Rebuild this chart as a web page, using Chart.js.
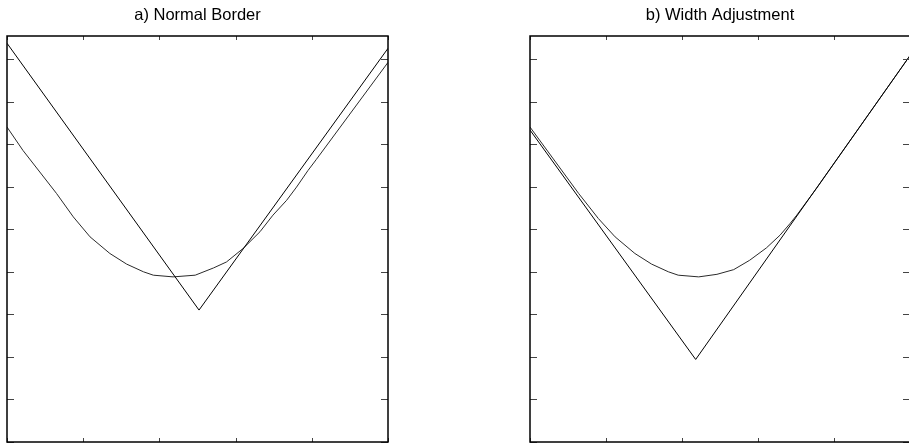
<!DOCTYPE html>
<html>
<head>
<meta charset="utf-8">
<script src="https://cdn.jsdelivr.net/npm/chart.js@4.4.1/dist/chart.umd.min.js"></script>
<style>
  html, body { margin: 0; padding: 0; background: #fff; overflow: hidden; }
  .panel { position: absolute; top: 0; height: 443px; }
  #boxA { left: 0; width: 395px; }
  #boxB { left: 523px; width: 394px; }
</style>
</head>
<body>
<div class="panel" id="boxA"><canvas id="chartA"></canvas></div>
<div class="panel" id="boxB"><canvas id="chartB"></canvas></div>
<script>
// tick positions (no labels in the original)
const xTicks = [0, 1, 2, 3, 4, 5];
const yTicks = [0, 1, 2, 3, 4, 5, 6, 7, 8, 9];

// a) Normal Border
const leftVX = [0, 2.52, 5];
const leftVY = [9.37, 3.10, 9.25];
const leftCurveX = [0, 0.21, 0.65, 0.87, 1.09, 1.35, 1.57, 1.79, 1.92, 2.18, 2.47, 2.71, 2.88, 3.10, 3.32, 3.49, 3.67, 3.80, 3.95, 4.06, 5];
const leftCurveY = [7.40, 6.85, 5.84, 5.29, 4.82, 4.43, 4.18, 4.00, 3.92, 3.88, 3.92, 4.09, 4.23, 4.55, 4.94, 5.33, 5.68, 5.99, 6.38, 6.64, 8.92];

// b) Width Adjustment
const rightVX = [0, 2.18, 5];
const rightVY = [7.33, 1.94, 9.08];
const rightCurveX = [0, 0.64, 0.90, 1.12, 1.38, 1.60, 1.82, 1.95, 2.22, 2.46, 2.68, 2.89, 3.11, 3.29, 3.42, 3.51, 3.77, 5];
const rightCurveY = [7.40, 5.84, 5.25, 4.82, 4.43, 4.18, 4.00, 3.92, 3.88, 3.94, 4.05, 4.27, 4.56, 4.86, 5.13, 5.33, 5.96, 9.08];

function pts(xs, ys) {
  return xs.map((x, i) => ({ x: x, y: ys[i] }));
}

// frame + inward tick marks on all four sides
const frameTicks = {
  id: 'frameTicks',
  afterDatasetsDraw(chart) {
    const { ctx, chartArea: a, scales: { x, y } } = chart;
    ctx.save();
    ctx.strokeStyle = '#444';
    ctx.lineWidth = 1;
    ctx.beginPath();
    xTicks.forEach(v => {
      const px = Math.round(x.getPixelForValue(v)) + 0.5;
      ctx.moveTo(px, a.top); ctx.lineTo(px, a.top + 4);
      ctx.moveTo(px, a.bottom); ctx.lineTo(px, a.bottom - 4);
    });
    yTicks.forEach(v => {
      const py = Math.round(y.getPixelForValue(v)) + 0.5;
      ctx.moveTo(a.left, py); ctx.lineTo(a.left + 7, py);
      ctx.moveTo(a.right, py); ctx.lineTo(a.right - 7, py);
    });
    ctx.stroke();
    ctx.strokeStyle = '#000';
    ctx.lineWidth = 1.5;
    ctx.strokeRect(a.left, a.top, a.right - a.left, a.bottom - a.top);
    ctx.restore();
  }
};

function makeChart(id, title, vx, vy, cx, cy) {
  return new Chart(document.getElementById(id), {
    type: 'line',
    data: {
      datasets: [
        { data: pts(vx, vy), borderColor: '#000', borderWidth: 1, pointRadius: 0, tension: 0 },
        { data: pts(cx, cy), borderColor: '#2a2a2a', borderWidth: 1, pointRadius: 0, tension: 0 }
      ]
    },
    options: {
      responsive: true,
      maintainAspectRatio: false,
      animation: false,
      layout: { padding: { left: 7, right: 7, top: 0, bottom: 1 } },
      scales: {
        x: { type: 'linear', min: 0, max: 5, display: false },
        y: { type: 'linear', min: 0, max: 9.54, display: false }
      },
      plugins: {
        legend: { display: false },
        tooltip: { enabled: false },
        title: {
          display: true,
          text: title,
          color: '#000',
          font: { family: "'Liberation Sans', Arial, sans-serif", size: 16.5, weight: 'normal' },
          padding: { top: 6, bottom: 10.2 }
        }
      }
    },
    plugins: [frameTicks]
  });
}

makeChart('chartA', 'a) Normal Border', leftVX, leftVY, leftCurveX, leftCurveY);
makeChart('chartB', 'b) Width Adjustment', rightVX, rightVY, rightCurveX, rightCurveY);
</script>
</body>
</html>
